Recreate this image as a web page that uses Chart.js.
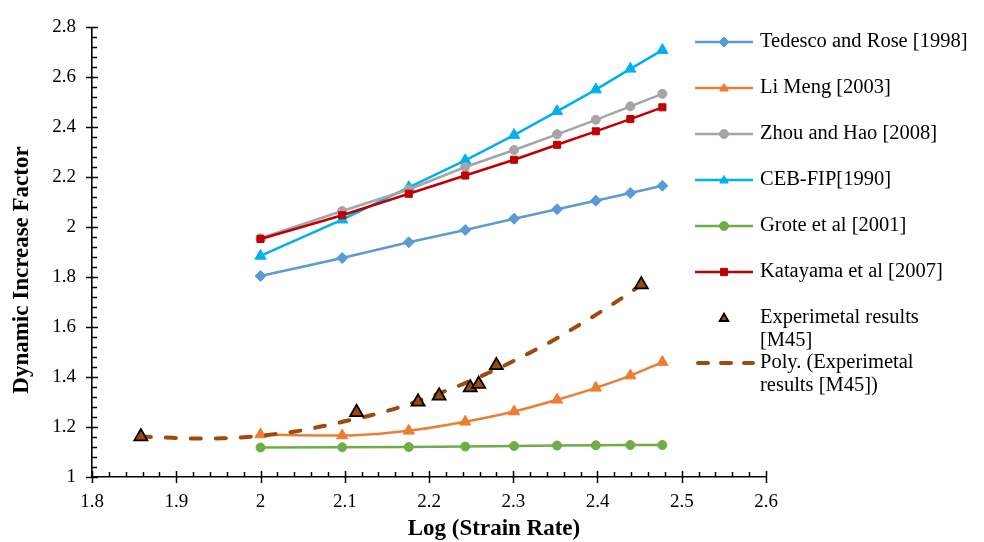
<!DOCTYPE html>
<html><head><meta charset="utf-8">
<script src="https://cdn.jsdelivr.net/npm/chart.js@4/dist/chart.umd.min.js"></script>
<style>html,body{margin:0;padding:0;background:#fff}#wrap{width:984px;height:542px;position:relative}</style>
</head><body><div id="wrap"><canvas id="c"></canvas></div>
<script>
// ---- data ----
const modelLogRate = [2.000, 2.097, 2.176, 2.243, 2.301, 2.352, 2.398, 2.439, 2.477];
const tedescoRose  = [1.805, 1.877, 1.940, 1.989, 2.034, 2.072, 2.106, 2.137, 2.166];
const liMeng       = [1.170, 1.166, 1.185, 1.221, 1.262, 1.309, 1.357, 1.406, 1.460];
const zhouHao      = [1.956, 2.065, 2.151, 2.241, 2.309, 2.372, 2.430, 2.484, 2.534];
const cebFip       = [1.885, 2.030, 2.160, 2.268, 2.369, 2.464, 2.551, 2.634, 2.709];
const grote        = [1.118, 1.119, 1.120, 1.122, 1.124, 1.126, 1.127, 1.128, 1.128];
const katayama     = [1.953, 2.048, 2.134, 2.207, 2.270, 2.330, 2.384, 2.433, 2.480];
const expLogRate   = [1.858, 2.114, 2.187, 2.212, 2.249, 2.259, 2.280, 2.452];
const expDIF       = [1.162, 1.259, 1.301, 1.325, 1.358, 1.372, 1.447, 1.770];
const trendLogRate = [1.858, 1.895, 1.924, 1.954, 1.984, 2.011, 2.041, 2.073, 2.100, 2.130, 2.158, 2.185, 2.213, 2.241, 2.268, 2.296, 2.320, 2.348, 2.371, 2.397, 2.423, 2.452];
const trendDIF     = [1.162, 1.157, 1.154, 1.155, 1.160, 1.169, 1.182, 1.203, 1.223, 1.246, 1.272, 1.302, 1.336, 1.373, 1.413, 1.457, 1.498, 1.548, 1.594, 1.647, 1.703, 1.770];
const seriesNames  = ['Tedesco and Rose [1998]', 'Li Meng [2003]', 'Zhou and Hao [2008]', 'CEB-FIP[1990]', 'Grote et al [2001]', 'Katayama et al [2007]', 'Experimetal results [M45]', 'Poly. (Experimetal results [M45])'];
const xTickValues  = [1.8, 1.9, 2.0, 2.1, 2.2, 2.3, 2.4, 2.5, 2.6];
const xTickLabels  = ['1.8', '1.9', '2', '2.1', '2.2', '2.3', '2.4', '2.5', '2.6'];
const yTickValues  = [1.0, 1.2, 1.4, 1.6, 1.8, 2.0, 2.2, 2.4, 2.6, 2.8];
const yTickLabels  = ['1', '1.2', '1.4', '1.6', '1.8', '2', '2.2', '2.4', '2.6', '2.8'];
const xTitle = 'Log (Strain Rate)';
const yTitle = 'Dynamic Increase Factor';

const pts = (xs, ys) => xs.map((x, i) => ({x, y: ys[i]}));
const FONT = '"Liberation Serif", "Times New Roman", serif';

function lineDs(label, ys, color, style, radius, order, extra) {
  return Object.assign({
    label, data: pts(modelLogRate, ys), showLine: true,
    borderColor: color, backgroundColor: color, borderWidth: 2.5,
    pointStyle: style, pointRadius: radius, pointHoverRadius: radius,
    pointBackgroundColor: color, pointBorderColor: color, pointBorderWidth: 1,
    tension: 0, order
  }, extra || {});
}

const datasets = [
  lineDs(seriesNames[0], tedescoRose, '#5B9BD5', 'rectRot', 5.5, 5),
  lineDs(seriesNames[1], liMeng, '#ED7D31', 'triangle', 6.5, 6, {tension: 0.35, cubicInterpolationMode: 'monotone'}),
  lineDs(seriesNames[2], zhouHao, '#A5A5A5', 'circle', 4.5, 3),
  lineDs(seriesNames[3], cebFip, '#00B0F0', 'triangle', 6.5, 4),
  lineDs(seriesNames[4], grote, '#70AD47', 'circle', 4.5, 7),
  lineDs(seriesNames[5], katayama, '#C00000', 'rect', 5, 2),
  {label: seriesNames[6], data: pts(expLogRate, expDIF), showLine: false,
   pointStyle: 'triangle', pointRadius: 7.5, pointHoverRadius: 7.5,
   pointBackgroundColor: '#9C4A0C', pointBorderColor: '#000', pointBorderWidth: 1.8,
   backgroundColor: '#9C4A0C', borderColor: '#000', order: 0},
  {label: seriesNames[7], data: pts(trendLogRate, trendDIF), showLine: true,
   borderColor: '#9E4A0E', backgroundColor: '#9E4A0E', borderWidth: 4, borderDash: [10, 15],
   borderCapStyle: 'round', pointRadius: 0, pointHoverRadius: 0, tension: 0.4,
   cubicInterpolationMode: 'monotone', order: 1}
];

const axisTicks = {
  id: 'axisTicks',
  beforeDatasetsDraw(chart) {
    const {ctx, chartArea: a, scales: {x, y}} = chart;
    ctx.save();
    ctx.strokeStyle = '#000';
    ctx.lineWidth = 1.5;
    ctx.beginPath();
    yTickValues.forEach((v, i) => {
      const p = Math.round(y.getPixelForValue(v)) + 0.5;
      ctx.moveTo(a.left - 6, p); ctx.lineTo(a.left + 6, p);
      if (i < yTickValues.length - 1) {
        const step = (yTickValues[i + 1] - v) / 5;
        for (let k = 1; k < 5; k++) {
          const q = Math.round(y.getPixelForValue(v + k * step)) + 0.5;
          ctx.moveTo(a.left, q); ctx.lineTo(a.left + 5, q);
        }
      }
    });
    xTickValues.forEach((v, i) => {
      const p = Math.round(x.getPixelForValue(v)) + 0.5;
      ctx.moveTo(p, a.bottom + 6); ctx.lineTo(p, a.bottom - 6);
      if (i < xTickValues.length - 1) {
        const step = (xTickValues[i + 1] - v) / 5;
        for (let k = 1; k < 5; k++) {
          const q = Math.round(x.getPixelForValue(v + k * step)) + 0.5;
          ctx.moveTo(q, a.bottom); ctx.lineTo(q, a.bottom - 5);
        }
      }
    });
    ctx.stroke();
    ctx.restore();
  },
  afterDraw(chart) {
    const ctx = chart.ctx;
    ctx.save();
    ctx.font = 'bold 23px ' + FONT;
    ctx.fillStyle = '#000';
    ctx.textAlign = 'center';
    ctx.textBaseline = 'middle';
    ctx.fillText(xTitle, 494, 529);
    ctx.translate(22, 270);
    ctx.rotate(-Math.PI / 2);
    ctx.fillText(yTitle, 0, 0);
    ctx.restore();
  }
};

const sideLegend = {
  id: 'sideLegend',
  afterDraw(chart) {
    const ctx = chart.ctx;
    const rows = [42, 88, 134, 180, 226, 272, 318, 363];
    const x0 = 695, x1 = 753, xm = 724, xt = 760, maxW = 210, lh = 22.5;
    ctx.save();
    ctx.font = '20.5px ' + FONT;
    ctx.textBaseline = 'middle';
    ctx.textAlign = 'left';
    chart.data.datasets.forEach((ds, i) => {
      const y = rows[i];
      if (ds.showLine) {
        ctx.save();
        ctx.strokeStyle = ds.borderColor;
        ctx.lineWidth = ds.borderWidth;
        ctx.lineCap = ds.borderCapStyle || 'butt';
        ctx.setLineDash(ds.borderDash ? [10, 13] : []);
        ctx.beginPath(); ctx.moveTo(x0 + (ds.borderDash ? 3 : 0), y); ctx.lineTo(x1, y); ctx.stroke();
        ctx.restore();
      }
      if (ds.pointRadius > 0) {
        ctx.save();
        ctx.fillStyle = ds.pointBackgroundColor;
        ctx.strokeStyle = ds.pointBorderColor;
        ctx.lineWidth = ds.pointBorderWidth;
        Chart.helpers.drawPoint(ctx, {pointStyle: ds.pointStyle, rotation: 0,
          radius: Math.min(ds.pointRadius, 5), borderWidth: ds.pointBorderWidth}, xm, y + (ds.pointStyle === 'triangle' ? 0.5 : 0));
        ctx.restore();
      }
      const words = ds.label.split(' ');
      const lines = [];
      let cur = '';
      words.forEach(w => {
        const t = cur ? cur + ' ' + w : w;
        if (ctx.measureText(t).width > maxW && cur) { lines.push(cur); cur = w; } else cur = t;
      });
      lines.push(cur);
      ctx.fillStyle = '#000';
      lines.forEach((ln, k) => ctx.fillText(ln, xt, y + k * lh));
    });
    ctx.restore();
  }
};

new Chart(document.getElementById('c'), {
  type: 'scatter',
  data: {datasets},
  options: {
    responsive: true, maintainAspectRatio: false, animation: false,
    layout: {padding: {top: 23, right: 218, bottom: 0, left: 0}},
    plugins: {legend: {display: false}, tooltip: {enabled: false}},
    scales: {
      x: {
        type: 'linear', min: 1.8, max: 2.6,
        afterBuildTicks: s => { s.ticks = xTickValues.map(v => ({value: v})); },
        afterFit: s => { s.height = 65; },
        grid: {display: false, drawTicks: false},
        border: {display: true, color: '#000', width: 1.6},
        ticks: {color: '#000', font: {family: FONT, size: 19}, padding: 14, maxRotation: 0,
                callback: (v, i) => xTickLabels[i]},
        title: {display: false, text: xTitle}
      },
      y: {
        type: 'linear', min: 1, max: 2.8,
        afterBuildTicks: s => { s.ticks = yTickValues.map(v => ({value: v})); },
        afterFit: s => { s.width = 92; },
        grid: {display: false, drawTicks: false},
        border: {display: true, color: '#000', width: 1.6},
        ticks: {color: '#000', font: {family: FONT, size: 19}, padding: 16,
                callback: (v, i) => yTickLabels[i]},
        title: {display: false, text: yTitle}
      }
    }
  },
  plugins: [axisTicks, sideLegend]
});
</script></body></html>
